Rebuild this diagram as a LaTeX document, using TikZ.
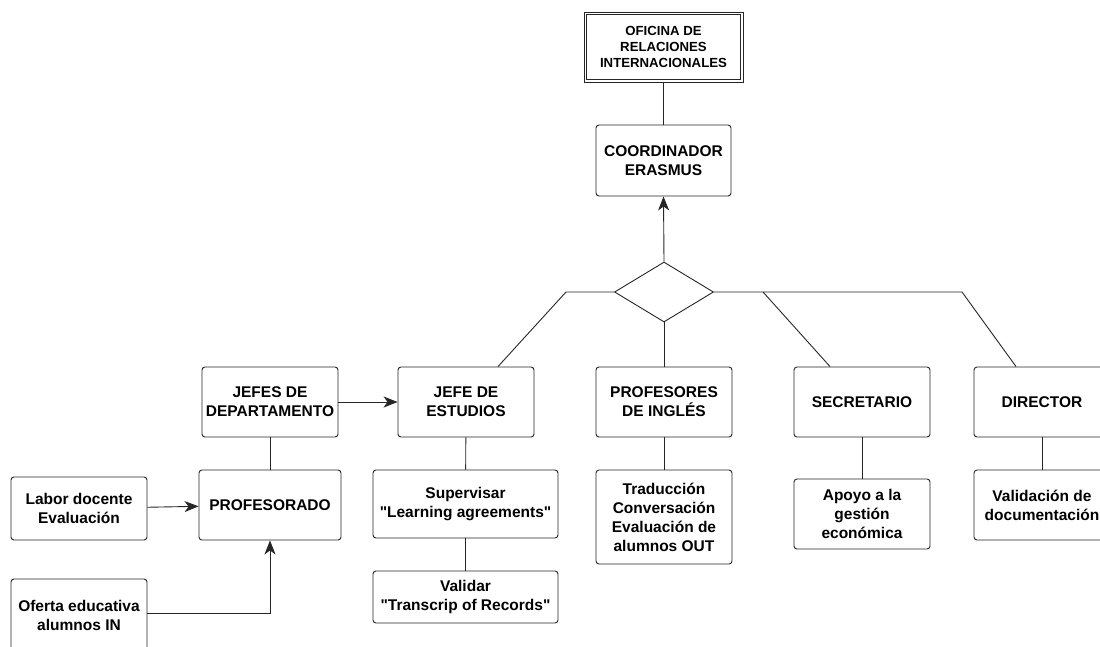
\documentclass[tikz,border=0pt]{standalone}
\usepackage{fontspec}
\setmainfont{Liberation Sans}[Ligatures=TeXOff]
\usetikzlibrary{shapes.geometric,arrows.meta}
\tikzset{
  role/.style={rectangle, draw=black!85, rounded corners=3pt, line width=0.9pt, align=center, inner sep=0pt,
    minimum width=136pt, minimum height=70pt, font=\fontsize{15.5}{19}\selectfont\bfseries},
  office/.style={rectangle, draw=black!85, line width=0.9pt, align=center, inner sep=0pt,
    minimum width=159pt, minimum height=70pt, font=\fontsize{13.2}{16}\selectfont\bfseries},
  hub/.style={diamond, draw=black!85, line width=0.9pt, inner sep=0pt, minimum width=99pt, minimum height=60pt},
  link/.style={draw=black!85, line width=0.9pt},
  flow/.style={draw=black!85, line width=0.9pt, -{Stealth[length=14pt,width=11pt,inset=4pt]}}
}
\begin{document}
\begin{tikzpicture}[x=1pt,y=-1pt]
  \useasboundingbox (0,0) rectangle (1100,646);

  \node[office] (ori) at (663.5,47) {OFICINA DE\\RELACIONES\\INTERNACIONALES};
  \draw[link] ([xshift=3pt,yshift=-3pt]ori.north west) rectangle ([xshift=-3pt,yshift=3pt]ori.south east);
  \node[role, minimum width=135pt, minimum height=71pt] (coord) at (663.5,160.5) {COORDINADOR\\ERASMUS};
  \node[hub] (hub) at (664,292) {};

  \node[role] (jdep) at (270,402) {JEFES DE\\DEPARTAMENTO};
  \node[role] (jest) at (466,402) {JEFE DE\\ESTUDIOS};
  \node[role] (ping) at (664,402) {PROFESORES\\DE INGLÉS};
  \node[role] (secr) at (862,402) {SECRETARIO};
  \node[role] (dir) at (1042,402) {DIRECTOR};

  \node[role, minimum width=142pt] (prof) at (270,505) {PROFESORADO};
  \node[role, minimum height=63pt] (labor) at (79,508.5) {Labor docente\\Evaluación};
  \node[role, minimum height=72pt] (oferta) at (79,615) {Oferta educativa\\alumnos IN};

  \node[role, minimum width=185pt, minimum height=68pt] (superv) at (465.5,504) {Supervisar\\"Learning agreements"};
  \node[role, minimum width=185pt, minimum height=52pt] (valid) at (465.5,597) {Validar\\"Transcrip of Records"};
  \node[role, minimum height=94pt] (trad) at (664,517) {Traducción\\Conversación\\Evaluación de\\alumnos OUT};
  \node[role] (apoyo) at (862,514) {Apoyo a la\\gestión\\económica};
  \node[role] (vdoc) at (1042,505) {Validación de\\documentación};

  \coordinate (kl) at (566,292);
  \coordinate (kr) at (763,292);
  \coordinate (ke) at (962,292);

  \draw[link] (ori) -- (coord);
  \draw[flow] (hub.north) -- (coord.south);
  \draw[link] (hub.west) -- (kl) -- ([xshift=32pt]jest.north);
  \draw[link] (hub.east) -- (ke) -- ([xshift=-26pt]dir.north);
  \draw[link] (kr) -- ([xshift=-32pt]secr.north);
  \draw[link] (hub.south) -- (ping);

  \draw[flow] (jdep) -- (jest);
  \draw[link] (jdep) -- (prof);
  \draw[flow] (labor) -- (prof);
  \draw[flow] (oferta.east |- 0,613) -| (prof.south);

  \draw[link] (jest) -- (superv);
  \draw[link] (superv) -- (valid);
  \draw[link] (ping) -- (trad);
  \draw[link] (secr) -- (apoyo);
  \draw[link] (dir) -- (vdoc);
\end{tikzpicture}
\end{document}
